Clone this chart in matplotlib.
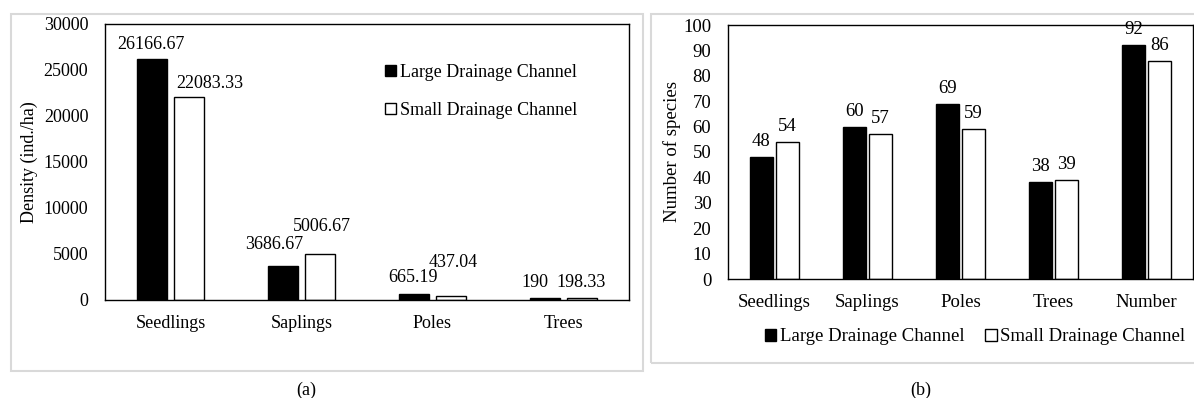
import numpy as np
import matplotlib
matplotlib.use("Agg")
import matplotlib.pyplot as plt
from matplotlib.patches import Patch, Rectangle

plt.rcParams['font.family'] = ['Liberation Serif', 'DejaVu Serif']

# stand density by growth stage
stages = ['Seedlings', 'Saplings', 'Poles', 'Trees']
density_large = [26166.67, 3686.67, 665.19, 190]
density_small = [22083.33, 5006.67, 437.04, 198.33]

# species richness by growth stage
groups = ['Seedlings', 'Saplings', 'Poles', 'Trees', 'Number']
species_large = [48, 60, 69, 38, 92]
species_small = [54, 57, 59, 39, 86]

series_names = ['Large Drainage Channel', 'Small Drainage Channel']

# nudges (pixels) for the value labels of panel (a), so they don't collide
nudge_large = [(-1, 10), (-9, 17), (-1, 12), (-10, 11)]
nudge_small = [(21, 9), (2, 23), (2, 29), (-1, 11)]

FS_A = 13
FS_B = 13.5
W, H = 1194, 398


def fmt(v):
    return f"{v:.2f}".rstrip('0').rstrip('.')


def style_axes(ax, fs):
    for s in ax.spines.values():
        s.set_color('black')
        s.set_linewidth(1.0)
    ax.tick_params(length=0, labelsize=fs, colors='black')


fig = plt.figure(figsize=(W / 100, H / 100), dpi=100, facecolor='white')

# light grey frames around each panel
for x0, y0, x1, y1 in [(11, 14, 643, 371), (651, 14, 1210, 363)]:
    fig.patches.append(Rectangle((x0 / W, 1 - y1 / H), (x1 - x0) / W, (y1 - y0) / H,
                                 transform=fig.transFigure, fill=False,
                                 edgecolor='#d9d9d9', linewidth=1.5))

handles = [Patch(facecolor='black', edgecolor='black'),
           Patch(facecolor='white', edgecolor='black')]

# ---- (a) density ----
ax1 = fig.add_axes([105 / W, 1 - 300 / H, 524 / W, 276 / H])
x = np.arange(len(stages))
bw, off = 0.229, 0.141
b1 = ax1.bar(x - off, density_large, bw, color='black', edgecolor='black', linewidth=1)
b2 = ax1.bar(x + off, density_small, bw, color='white', edgecolor='black', linewidth=1)
for bars, vals, nudge in [(b1, density_large, nudge_large), (b2, density_small, nudge_small)]:
    for r, v, (dx, dy) in zip(bars, vals, nudge):
        ax1.annotate(fmt(v), (r.get_x() + r.get_width() / 2, v), xytext=(dx, dy),
                     textcoords='offset pixels', ha='center', va='baseline', fontsize=FS_A)
ax1.set_xlim(-0.5, len(stages) - 0.5)
ax1.set_ylim(0, 30000)
ax1.set_yticks(np.arange(0, 30001, 5000))
ax1.set_xticks(x)
ax1.set_xticklabels(stages)
style_axes(ax1, FS_A)
ax1.tick_params(axis='y', pad=12)
ax1.tick_params(axis='x', pad=11)
ax1.set_ylabel('Density (ind./ha)', fontsize=FS_A)
ax1.yaxis.set_label_coords(-0.128, 0.5)
ax1.legend(handles, series_names, loc='upper left', bbox_to_anchor=(0.535, 0.855),
           frameon=False, fontsize=FS_A, handlelength=0.6, handleheight=0.6,
           handletextpad=0.2, labelspacing=1.15, borderpad=0, borderaxespad=0)

# ---- (b) number of species ----
ax2 = fig.add_axes([728 / W, 1 - 279 / H, 465 / W, 254 / H])
x2 = np.arange(len(groups))
bw2, off2 = 0.237, 0.14
c1 = ax2.bar(x2 - off2, species_large, bw2, color='black', edgecolor='black', linewidth=1)
c2 = ax2.bar(x2 + off2, species_small, bw2, color='white', edgecolor='black', linewidth=1)
for bars, vals in [(c1, species_large), (c2, species_small)]:
    for r, v in zip(bars, vals):
        ax2.annotate(fmt(v), (r.get_x() + r.get_width() / 2, v), xytext=(0, 11),
                     textcoords='offset pixels', ha='center', va='baseline', fontsize=FS_B)
ax2.set_xlim(-0.5, len(groups) - 0.5)
ax2.set_ylim(0, 100)
ax2.set_yticks(np.arange(0, 101, 10))
ax2.set_xticks(x2)
ax2.set_xticklabels(groups)
style_axes(ax2, FS_B)
ax2.tick_params(axis='y', pad=12)
ax2.tick_params(axis='x', pad=11)
ax2.set_ylabel('Number of species', fontsize=FS_B)
ax2.yaxis.set_label_coords(-0.101, 0.5)
ax2.legend(handles, series_names, loc='center', bbox_to_anchor=(0.532, -0.228), ncol=2,
           frameon=False, fontsize=FS_B, handlelength=0.6, handleheight=0.6,
           handletextpad=0.2, columnspacing=1.1, borderpad=0, borderaxespad=0)

fig.text(306 / W, 1 - 390 / H, '(a)', ha='center', va='center', fontsize=FS_A)
fig.text(921 / W, 1 - 390 / H, '(b)', ha='center', va='center', fontsize=FS_A)

fig.savefig('out.png', dpi=100, facecolor='white')
